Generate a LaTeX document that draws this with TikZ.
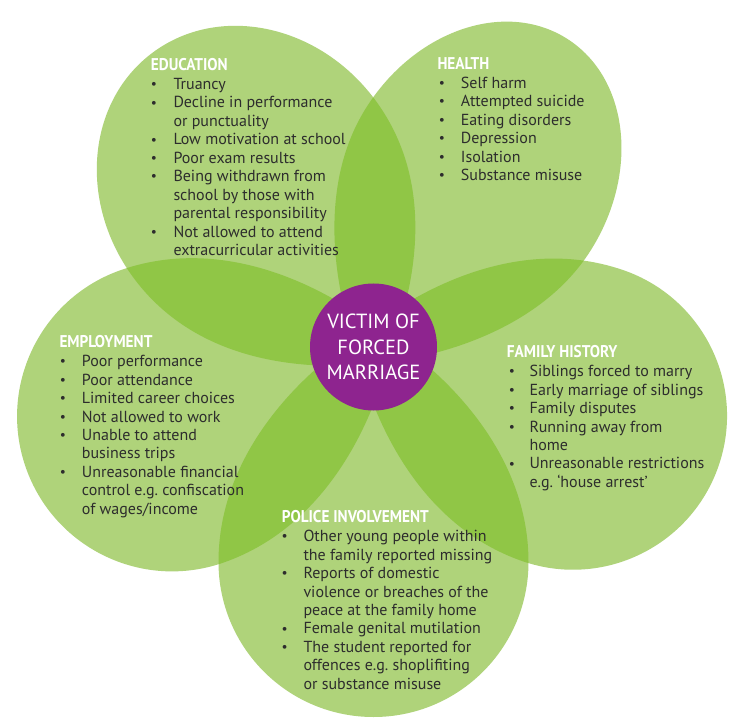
\documentclass[tikz,border=0pt]{standalone}
\usepackage{fontspec}
\setmainfont{PT Sans}
\newfontfamily\headfont[FakeStretch=0.9]{PT Sans}
\definecolor{petal}{RGB}{175,211,122}
\definecolor{overlap}{RGB}{144,198,70}
\definecolor{violetc}{RGB}{142,36,143}
\definecolor{bodytext}{RGB}{45,45,45}
% #1 = distance of the outer arc centre, #2 = radius along the axis, #3 = radius across
\newcommand\petalpath[3]{(-20,0) .. controls (10,{0.34*#3}) and ({#1-0.78*#3},#3) .. (#1,#3) arc[start angle=90,end angle=-90,x radius=#2,y radius=#3] .. controls ({#1-0.78*#3},{-#3}) and (10,{-0.34*#3}) .. (-20,0) -- cycle}
\newcommand\pedu{\petalpath{198}{170}{150}}
\newcommand\phea{\petalpath{198}{166}{133}}
\newcommand\pfam{\petalpath{211}{154}{154}}
\newcommand\ppol{\petalpath{215}{155}{155}}
\newcommand\pemp{\petalpath{213}{155}{155}}
\newcommand\blt{\raisebox{0.8pt}{\fontsize{13.5}{13.5}\selectfont\hspace{0.3pt}\textbullet}}
\tikzset{
  tedu/.style={shift={(373.5,347)},rotate=-127},
  thea/.style={shift={(373.5,347)},rotate=-58},
  tfam/.style={shift={(373.5,347)},rotate=19},
  tpol/.style={shift={(373.5,347)},rotate=90},
  temp/.style={shift={(373.5,347)},rotate=161},
  head/.style={anchor=base west,inner sep=0,text=white,font=\headfont\bfseries\fontsize{17}{18.45}\selectfont},
  list/.style={anchor=base west,inner sep=0,text=bodytext,font=\fontsize{16}{18.45}\selectfont}
}
\frenchspacing
\begin{document}
\begin{tikzpicture}[x=1pt,y=1pt,yscale=-1]
\path[use as bounding box,fill=white] (0,0) rectangle (731,719);
% petals
\fill[petal,tedu] \pedu;
\fill[petal,thea] \phea;
\fill[petal,tfam] \pfam;
\fill[petal,tpol] \ppol;
\fill[petal,temp] \pemp;
% overlaps
\begin{scope}\clip[tedu] \pedu; \fill[overlap,thea] \phea;\end{scope}
\begin{scope}\clip[thea] \phea; \fill[overlap,tfam] \pfam;\end{scope}
\begin{scope}\clip[tfam] \pfam; \fill[overlap,tpol] \ppol;\end{scope}
\begin{scope}\clip[tpol] \ppol; \fill[overlap,temp] \pemp;\end{scope}
\begin{scope}\clip[temp] \pemp; \fill[overlap,tedu] \pedu;\end{scope}
% centre
\node[circle,fill=violetc,minimum size=127pt,inner sep=0,text=white,align=center,
  font=\fontsize{20.5}{25.5}\selectfont] (centre) at (373.5,347) {VICTIM OF\\FORCED\\MARRIAGE};
% education
\node[head] (eduh) at (150.7,70.5) {EDUCATION};
\node[list] (edul) at (150.3,89.5) {\begin{tabular}[t]{@{}p{23pt}@{}l@{}}
\blt & Truancy\\
\blt & Decline in performance\\
 & or punctuality\\
\blt & Low motivation at school\\
\blt & Poor exam results\\
\blt & Being withdrawn from\\
 & school by those with\\
 & parental responsibility\\
\blt & Not allowed to attend\\
 & extracurricular activities
\end{tabular}};
% health
\node[head] (heah) at (437.3,69.5) {HEALTH};
\node[list] (heal) at (438.3,88.3) {\begin{tabular}[t]{@{}p{22.4pt}@{}l@{}}
\blt & Self harm\\
\blt & Attempted suicide\\
\blt & Eating disorders\\
\blt & Depression\\
\blt & Isolation\\
\blt & Substance misuse
\end{tabular}};
% employment
\node[head] (emph) at (59.3,347.3) {EMPLOYMENT};
\node[list] (empl) at (59.3,366.7) {\begin{tabular}[t]{@{}p{22.4pt}@{}l@{}}
\blt & Poor performance\\
\blt & Poor attendance\\
\blt & Limited career choices\\
\blt & Not allowed to work\\
\blt & Unable to attend\\
 & business trips\\
\blt & Unreasonable financial\\
 & control e.g. confiscation\\
 & of wages/income
\end{tabular}};
% family history
\node[head] (famh) at (506.7,357.3) {FAMILY HISTORY};
\node[list] (faml) at (508.3,376.7) {\begin{tabular}[t]{@{}p{21pt}@{}l@{}}
\blt & Siblings forced to marry\\
\blt & Early marriage of siblings\\
\blt & Family disputes\\
\blt & Running away from\\
 & home\\
\blt & Unreasonable restrictions\\
 & e.g. ‘house arrest’
\end{tabular}};
% police
\node[head] (polh) at (281.7,522.7) {POLICE INVOLVEMENT};
\node[list] (poll) at (281,541.7) {\begin{tabular}[t]{@{}p{22.3pt}@{}l@{}}
\blt & Other young people within\\
 & the family reported missing\\
\blt & Reports of domestic\\
 & violence or breaches of the\\
 & peace at the family home\\
\blt & Female genital mutilation\\
\blt & The student reported for\\
 & offences e.g. shoplifiting\\
 & or substance misuse
\end{tabular}};
\end{tikzpicture}
\end{document}
